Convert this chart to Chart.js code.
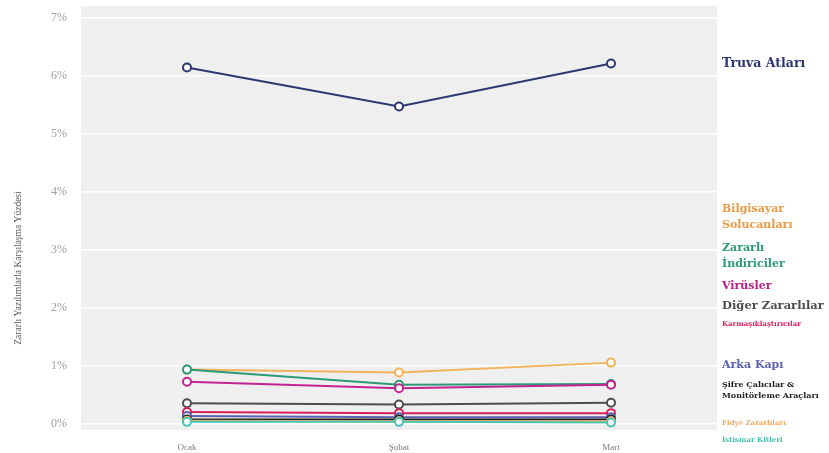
<!DOCTYPE html>
<html>
<head>
<meta charset="utf-8">
<script src="https://cdn.jsdelivr.net/npm/chart.js@4"></script>
<style>
  html, body { margin: 0; padding: 0; background: #fff; }
  #wrap { width: 829px; height: 453px; }
</style>
</head>
<body>
<div id="wrap"><canvas id="chart" width="829" height="453"></canvas></div>
<script>
// --- DATA ---
const months = ['Ocak', 'Şubat', 'Mart'];
const seriesNames = [
  'Truva Atları', 'Bilgisayar Solucanları', 'Zararlı İndiriciler', 'Virüsler',
  'Diğer Zararlılar', 'Karmaşıklaştırıcılar', 'Arka Kapı',
  'Şifre Çalıcılar & Monitörleme Araçları', 'Fidye Zararlıları', 'İstismar Kitleri'
];
const truva = [6.14, 5.47, 6.21];
const solucan = [0.94, 0.89, 1.06];
const indirici = [0.94, 0.68, 0.69];
const virus = [0.73, 0.62, 0.68];
const diger = [0.36, 0.34, 0.37];
const karmasik = [0.21, 0.19, 0.19];
const arkaKapi = [0.14, 0.12, 0.12];
const sifre = [0.08, 0.08, 0.08];
const fidye = [0.06, 0.05, 0.05];
const istismar = [0.04, 0.04, 0.03];
const yTicks = [0, 1, 2, 3, 4, 5, 6, 7];

// right-hand label text (wrapped) and their anchor value on the y axis
const labelLines = [
  ['Truva Atları'], ['Bilgisayar', 'Solucanları'], ['Zararlı', 'İndiriciler'], ['Virüsler'],
  ['Diğer Zararlılar'], ['Karmaşıklaştırıcılar'], ['Arka Kapı'],
  ['Şifre Çalıcılar &', 'Monitörleme Araçları'], ['Fidye Zararlıları'], ['İstismar Kitleri']
];
const labelAt = [6.21, 3.57, 2.9, 2.37, 2.04, 1.73, 1.01, 0.58, 0.02, -0.27];

// --- STYLE ---
const colors = ['#2d3870', '#f2b45a', '#2b9a78', '#c2238e', '#4d4d4d', '#d81f5c', '#5a62b0', '#1e1e1e', '#f5b26b', '#4cc3b0'];
const labelColors = ['#2d3870', '#e99a45', '#2b9a78', '#b81d84', '#4d4d4d', '#d81f5c', '#5a62b0', '#1e1e1e', '#f0a860', '#48bfae'];
const labelSizes = [12.5, 11, 11, 11, 11.5, 7, 11, 8, 7, 7];
const allValues = [truva, solucan, indirici, virus, diger, karmasik, arkaKapi, sifre, fidye, istismar];

const SERIF = '"Liberation Serif", "DejaVu Serif", serif';
const LSERIF = '"DejaVu Serif", serif';

const datasets = allValues.map((vals, i) => ({
  label: seriesNames[i],
  data: vals,
  borderColor: colors[i],
  backgroundColor: '#ffffff',
  borderWidth: 2,
  pointRadius: 4,
  pointBorderWidth: 2,
  pointBackgroundColor: '#ffffff',
  pointBorderColor: colors[i],
  tension: 0
})).reverse();

const panelBg = {
  id: 'panelBg',
  beforeDraw(chart) {
    const { ctx, chartArea: a } = chart;
    ctx.save();
    ctx.fillStyle = '#efefef';
    ctx.fillRect(a.left, a.top, a.right - a.left, a.bottom - a.top);
    ctx.restore();
  }
};

const sideLabels = {
  id: 'sideLabels',
  afterDraw(chart) {
    const { ctx, chartArea: a, scales } = chart;
    ctx.save();
    ctx.textAlign = 'left';
    ctx.textBaseline = 'middle';
    labelLines.forEach((lines, i) => {
      const size = labelSizes[i];
      const lh = size * 1.45;
      const cy = scales.y.getPixelForValue(labelAt[i]);
      ctx.font = `bold ${size}px ${LSERIF}`;
      ctx.fillStyle = labelColors[i];
      lines.forEach((t, k) => {
        ctx.fillText(t, a.right + 5, cy + (k - (lines.length - 1) / 2) * lh);
      });
    });
    // y axis title
    ctx.translate(18, (a.top + a.bottom) / 2 + 50);
    ctx.rotate(-Math.PI / 2);
    ctx.textAlign = 'center';
    ctx.font = `9.5px ${SERIF}`;
    ctx.fillStyle = '#5a5a5a';
    ctx.fillText('Zararlı Yazılımlarla Karşılaşma Yüzdesi', 0, 0);
    ctx.restore();
  }
};

new Chart(document.getElementById('chart'), {
  type: 'line',
  data: { labels: months, datasets },
  options: {
    responsive: false,
    animation: false,
    layout: { padding: { top: 4, right: 112, left: 0, bottom: 0 } },
    plugins: { legend: { display: false }, tooltip: { enabled: false } },
    scales: {
      x: {
        offset: true,
        grid: { display: false },
        border: { display: false },
        ticks: { color: '#7a7a7a', font: { family: SERIF, size: 9 }, padding: 4 },
        afterFit(s) { s.height = 23; s.paddingLeft = 0; s.paddingRight = 0; }
      },
      y: {
        min: -0.1,
        max: 7.2,
        afterBuildTicks(s) { s.ticks = yTicks.map(v => ({ value: v })); },
        grid: { color: '#ffffff', lineWidth: 1.5, drawTicks: false },
        border: { display: false },
        ticks: {
          color: '#a0a0a0',
          font: { family: SERIF, size: 12 },
          padding: 14,
          callback: v => v + '%'
        },
        afterFit(s) { s.width = 81; s.paddingTop = 0; s.paddingBottom = 0; }
      }
    }
  },
  plugins: [panelBg, sideLabels]
});
</script>
</body>
</html>
